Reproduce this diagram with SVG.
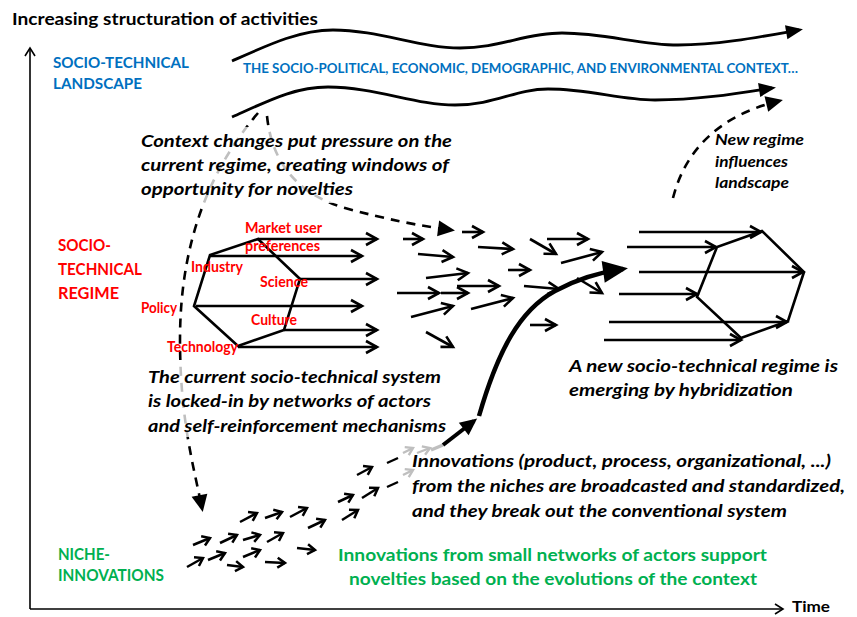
<svg xmlns="http://www.w3.org/2000/svg" width="857" height="617" viewBox="0 0 857 617">
<style>
.t{font-family:Lato,"Liberation Sans",sans-serif;font-weight:bold}
.i{font-style:italic}
.k{fill:#000}
.blue{fill:#0070C0}
.red{fill:#FF0000}
.green{fill:#00B050}
.ln{stroke:#000;stroke-width:2.8;fill:none}
.na{stroke:#000;stroke-width:2.5;fill:none;marker-end:url(#chs)}
.ra{stroke:#000;stroke-width:2.6;fill:none;marker-end:url(#ch)}
.dash{stroke-width:2.6;fill:none;stroke-dasharray:9 7}
</style>
<defs>
<marker id="ch" markerUnits="userSpaceOnUse" markerWidth="30" markerHeight="30" orient="auto" refX="0" refY="0" viewBox="-15 -15 30 30" overflow="visible">
<path d="M-11,-6 L0,0 L-11,6" fill="none" stroke="#000" stroke-width="2.6"/>
</marker>
<marker id="chs" markerUnits="userSpaceOnUse" markerWidth="20" markerHeight="20" orient="auto" refX="0" refY="0" viewBox="-10 -10 20 20" overflow="visible">
<path d="M-7.5,-5 L0,0 L-7.5,5" fill="none" stroke="#000" stroke-width="2.5"/>
</marker>
<marker id="chg" markerUnits="userSpaceOnUse" markerWidth="20" markerHeight="20" orient="auto" refX="0" refY="0" viewBox="-10 -10 20 20" overflow="visible">
<path d="M-7,-4.5 L0,0 L-7,4.5" fill="none" stroke="#bfbfbf" stroke-width="2.4"/>
</marker>
<marker id="axh" markerUnits="userSpaceOnUse" markerWidth="20" markerHeight="20" orient="auto" refX="0" refY="0" viewBox="-10 -10 20 20" overflow="visible">
<path d="M-8,-5 L0,0 L-8,5" fill="none" stroke="#000" stroke-width="1.6"/>
</marker>
<marker id="tri" markerUnits="userSpaceOnUse" markerWidth="40" markerHeight="40" orient="auto" refX="0" refY="0" viewBox="-20 -20 40 40" overflow="visible">
<path d="M-13,-7 L4,0 L-13,7 Z" fill="#000"/>
</marker>
<marker id="trim" markerUnits="userSpaceOnUse" markerWidth="40" markerHeight="40" orient="auto" refX="0" refY="0" viewBox="-20 -20 40 40" overflow="visible">
<path d="M-13,-8 L4,0 L-13,8 Z" fill="#000"/>
</marker>
<marker id="trib" markerUnits="userSpaceOnUse" markerWidth="60" markerHeight="60" orient="auto" refX="0" refY="0" viewBox="-30 -30 60 60" overflow="visible">
<path d="M-20,-11 L5,0 L-20,11 Z" fill="#000"/>
</marker>
<clipPath id="outTxt">
<path clip-rule="evenodd" d="M0,0H857V617H0Z M135,127H462V203H135Z M140,365H455V437H140Z"/>
</clipPath>
<clipPath id="inTxt">
<rect x="135" y="127" width="327" height="76"/>
<rect x="140" y="365" width="315" height="72"/>
</clipPath>
</defs>

<g id="axes">
<line x1="30" y1="609" x2="30" y2="48" stroke="#000" stroke-width="1.6" marker-end="url(#axh)"/>
<line x1="30" y1="609" x2="783" y2="609" stroke="#000" stroke-width="1.6" marker-end="url(#axh)"/>
<text class="t k" x="12" y="25" font-size="17.5" textLength="306" lengthAdjust="spacingAndGlyphs">Increasing structuration of activities</text>
<text class="t k" x="792" y="612" font-size="16" textLength="38" lengthAdjust="spacingAndGlyphs">Time</text>
</g>

<g id="connectors">
<g clip-path="url(#outTxt)">
<path class="dash" stroke="#000" marker-end="url(#trim)" d="M258,113 C205,175 180,250 180,340 C180,420 194,468 202,508"/>
<path class="dash" stroke="#000" marker-end="url(#trim)" d="M267,116 C272,165 300,195 345,208 C385,219 420,226 451,230"/>
</g>
<g clip-path="url(#inTxt)">
<path class="dash" stroke="#bfbfbf" d="M258,113 C205,175 180,250 180,340 C180,420 194,468 202,508"/>
<path class="dash" stroke="#bfbfbf" d="M267,116 C272,165 300,195 345,208 C385,219 420,226 451,230"/>
</g>
<path class="dash" stroke="#000" marker-end="url(#trim)" d="M673,198 C685,150 720,115 779,101"/>
<line x1="387" y1="463" x2="398" y2="458" stroke="#000" stroke-width="2.4"/>
<line x1="387" y1="487" x2="398" y2="482" stroke="#000" stroke-width="2.4"/>
<line x1="403" y1="453" x2="413" y2="448" stroke="#bfbfbf" stroke-width="2.4" marker-end="url(#chg)"/>
<line x1="417" y1="453" x2="430" y2="448" stroke="#bfbfbf" stroke-width="2.4" marker-end="url(#chg)"/>
<line x1="403" y1="475" x2="413" y2="470" stroke="#bfbfbf" stroke-width="2.4" marker-end="url(#chg)"/>
<line x1="431" y1="450" x2="443" y2="445" stroke="#bfbfbf" stroke-width="3.5"/>
<line x1="443" y1="445" x2="474" y2="421" stroke="#000" stroke-width="4" marker-end="url(#trim)"/>
<path d="M479,416 C498,350 520,310 555,291 C575,280 595,273 623,269" fill="none" stroke="#000" stroke-width="4.5" marker-end="url(#trib)"/>
</g>

<g id="landscape-label">
<text class="t blue" x="53" y="68" font-size="16" textLength="136" lengthAdjust="spacingAndGlyphs">SOCIO-TECHNICAL</text>
<text class="t blue" x="53" y="89" font-size="16" textLength="89" lengthAdjust="spacingAndGlyphs">LANDSCAPE</text>
</g>

<g id="landscape">
<path class="ln" marker-end="url(#tri)" d="M232,61 C270,44 300,30 333,30 C378,30 420,48 460,48 C500,48 525,33 562,33 C605,33 640,45 678,45 C720,45 765,36 799,30"/>
<path class="ln" marker-end="url(#tri)" d="M232,117 C270,100 295,87 328,87 C375,87 415,105 455,105 C495,105 515,89 548,89 C590,89 620,100 655,100 C700,100 740,93 772,88"/>
<text class="t blue" x="243" y="73" font-size="14" textLength="555" lengthAdjust="spacingAndGlyphs">THE SOCIO-POLITICAL, ECONOMIC, DEMOGRAPHIC, AND ENVIRONMENTAL CONTEXT…</text>
</g>

<g id="regime-label">
<text class="t red" x="58" y="251" font-size="17" textLength="53" lengthAdjust="spacingAndGlyphs">SOCIO-</text>
<text class="t red" x="58" y="275" font-size="17" textLength="84" lengthAdjust="spacingAndGlyphs">TECHNICAL</text>
<text class="t red" x="58" y="299" font-size="17" textLength="61" lengthAdjust="spacingAndGlyphs">REGIME</text>
</g>

<g id="current-regime">
<polygon points="258,239 210,255 194,306 238,346 284,330 300,279" fill="none" stroke="#000" stroke-width="2.6"/>
<line class="ra" x1="258" y1="239" x2="377" y2="239"/>
<line class="ra" x1="210" y1="256" x2="362" y2="256"/>
<line class="ra" x1="300" y1="279" x2="377" y2="279"/>
<line class="ra" x1="196" y1="306" x2="362" y2="306"/>
<line class="ra" x1="284" y1="330" x2="377" y2="330"/>
<line class="ra" x1="238" y1="347" x2="377" y2="347"/>
<text class="t red" x="245" y="233" font-size="14.5" textLength="77" lengthAdjust="spacingAndGlyphs">Market user</text>
<text class="t red" x="245" y="251" font-size="14.5" textLength="75" lengthAdjust="spacingAndGlyphs">preferences</text>
<text class="t red" x="191" y="272" font-size="14.5" textLength="52" lengthAdjust="spacingAndGlyphs">Industry</text>
<text class="t red" x="260" y="287" font-size="14.5" textLength="48" lengthAdjust="spacingAndGlyphs">Science</text>
<text class="t red" x="141" y="313" font-size="14.5" textLength="36" lengthAdjust="spacingAndGlyphs">Policy</text>
<text class="t red" x="251" y="325" font-size="14.5" textLength="46" lengthAdjust="spacingAndGlyphs">Culture</text>
<text class="t red" x="167" y="352" font-size="14.5" textLength="71" lengthAdjust="spacingAndGlyphs">Technology</text>
</g>

<g id="regime-flow">
<line class="ra" x1="403" y1="239" x2="423" y2="239"/>
<line class="ra" x1="462" y1="232" x2="483" y2="232"/>
<line class="ra" x1="478" y1="247" x2="513" y2="249"/>
<line class="ra" x1="530" y1="239" x2="556" y2="254"/>
<line class="ra" x1="547" y1="239" x2="588" y2="239"/>
<line class="ra" x1="418" y1="254" x2="453" y2="257"/>
<line class="ra" x1="561" y1="263" x2="602" y2="252"/>
<line class="ra" x1="508" y1="270" x2="530" y2="270"/>
<line class="ra" x1="426" y1="278" x2="468" y2="273"/>
<line class="ra" x1="457" y1="286" x2="499" y2="286"/>
<line class="ra" x1="397" y1="293" x2="439" y2="293"/>
<line class="ra" x1="441" y1="293" x2="468" y2="293"/>
<line class="ra" x1="524" y1="286" x2="559" y2="289"/>
<line class="ra" x1="577" y1="278" x2="602" y2="293"/>
<line class="ra" x1="411" y1="317" x2="453" y2="306"/>
<line class="ra" x1="471" y1="309" x2="513" y2="298"/>
<line class="ra" x1="530" y1="325" x2="556" y2="325"/>
<line class="ra" x1="426" y1="332" x2="453" y2="347"/>
</g>

<g id="new-regime">
<polygon points="762,231 717,247 697,297 741,338 788,321 804,272" fill="none" stroke="#000" stroke-width="2.6"/>
<line class="ra" x1="639" y1="232" x2="761" y2="232"/>
<line class="ra" x1="627" y1="247" x2="716" y2="247"/>
<line class="ra" x1="639" y1="272" x2="803" y2="272"/>
<line class="ra" x1="619" y1="294" x2="697" y2="294"/>
<line class="ra" x1="609" y1="322" x2="787" y2="322"/>
<line class="ra" x1="604" y1="340" x2="741" y2="340"/>
</g>

<g id="niche-label">
<text class="t green" x="58" y="560" font-size="17" textLength="52" lengthAdjust="spacingAndGlyphs">NICHE-</text>
<text class="t green" x="58" y="581" font-size="17" textLength="106" lengthAdjust="spacingAndGlyphs">INNOVATIONS</text>
</g>

<g id="niche-arrows">
<line class="na" x1="187" y1="567" x2="203" y2="558"/>
<line class="na" x1="193" y1="545" x2="210" y2="538"/>
<line class="na" x1="208" y1="560" x2="225" y2="553"/>
<line class="na" x1="220" y1="543" x2="237" y2="535"/>
<line class="na" x1="227" y1="565" x2="243" y2="567"/>
<line class="na" x1="240" y1="522" x2="257" y2="513"/>
<line class="na" x1="243" y1="540" x2="260" y2="535"/>
<line class="na" x1="243" y1="557" x2="260" y2="550"/>
<line class="na" x1="265" y1="518" x2="282" y2="512"/>
<line class="na" x1="267" y1="542" x2="283" y2="533"/>
<line class="na" x1="265" y1="562" x2="285" y2="563"/>
<line class="na" x1="290" y1="517" x2="307" y2="508"/>
<line class="na" x1="297" y1="548" x2="315" y2="550"/>
<line class="na" x1="308" y1="528" x2="325" y2="520"/>
<line class="na" x1="338" y1="502" x2="353" y2="495"/>
<line class="na" x1="342" y1="520" x2="358" y2="510"/>
<line class="na" x1="357" y1="475" x2="372" y2="467"/>
<line class="na" x1="362" y1="498" x2="378" y2="488"/>
</g>

<g id="text-context">
<text class="t i k" x="141" y="147" font-size="17.5" textLength="311" lengthAdjust="spacingAndGlyphs">Context changes put pressure on the</text>
<text class="t i k" x="141" y="171" font-size="17.5" textLength="308" lengthAdjust="spacingAndGlyphs">current regime, creating windows of</text>
<text class="t i k" x="141" y="195" font-size="17.5" textLength="212" lengthAdjust="spacingAndGlyphs">opportunity for novelties</text>
</g>

<g id="text-locked">
<text class="t i k" x="148" y="383" font-size="17.5" textLength="293" lengthAdjust="spacingAndGlyphs">The current socio-technical system</text>
<text class="t i k" x="148" y="407" font-size="17.5" textLength="283" lengthAdjust="spacingAndGlyphs">is locked-in by networks of actors</text>
<text class="t i k" x="148" y="432" font-size="17.5" textLength="298" lengthAdjust="spacingAndGlyphs">and self-reinforcement mechanisms</text>
</g>

<g id="text-new-regime">
<text class="t i k" x="569" y="372" font-size="17.5" textLength="269" lengthAdjust="spacingAndGlyphs">A new socio-technical regime is</text>
<text class="t i k" x="569" y="396" font-size="17.5" textLength="224" lengthAdjust="spacingAndGlyphs">emerging by hybridization</text>
</g>

<g id="text-influences">
<text class="t i k" x="715" y="145" font-size="16" textLength="89" lengthAdjust="spacingAndGlyphs">New regime</text>
<text class="t i k" x="715" y="167" font-size="16" textLength="73" lengthAdjust="spacingAndGlyphs">influences</text>
<text class="t i k" x="715" y="188" font-size="16" textLength="74" lengthAdjust="spacingAndGlyphs">landscape</text>
</g>

<g id="text-broadcast">
<text class="t i k" x="412" y="467" font-size="17.5" textLength="419" lengthAdjust="spacingAndGlyphs">Innovations (product, process, organizational, ...)</text>
<text class="t i k" x="412" y="492" font-size="17.5" textLength="433" lengthAdjust="spacingAndGlyphs">from the niches are broadcasted and standardized,</text>
<text class="t i k" x="412" y="517" font-size="17.5" textLength="375" lengthAdjust="spacingAndGlyphs">and they break out the conventional system</text>
</g>

<g id="text-niche">
<text class="t green" x="338" y="561" font-size="17.5" textLength="429" lengthAdjust="spacingAndGlyphs">Innovations from small networks of actors support</text>
<text class="t green" x="349" y="585" font-size="17.5" textLength="408" lengthAdjust="spacingAndGlyphs">novelties based on the evolutions of the context</text>
</g>
</svg>
